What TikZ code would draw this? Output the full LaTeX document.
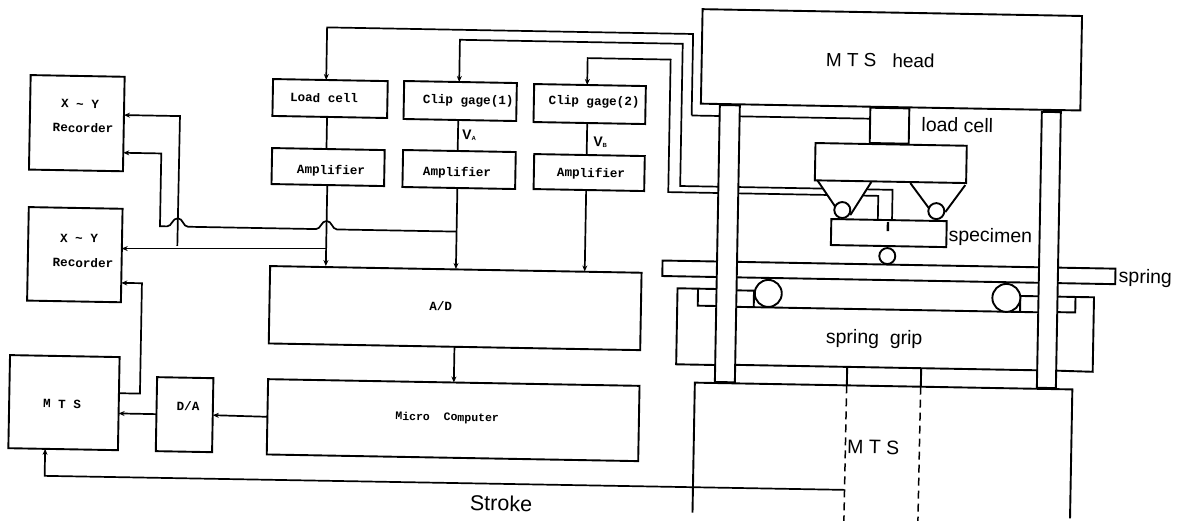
\documentclass[tikz,border=0pt]{standalone}
\usepackage{fontspec}
\setmainfont{Liberation Sans}
\setmonofont{Liberation Mono}
\usetikzlibrary{arrows.meta,calc}
\newcommand\OffT[3]{\raisebox{#2pt}[0pt][0pt]{\makebox[0pt]{\hspace*{#1pt}\hspace*{#1pt}#3}}}
\tikzset{
  skewrot/.style={rotate=-1.03},
  box/.style={draw=black,line width=1.9pt,fill=white,skewrot,inner sep=0pt,outer sep=0pt,
    font=\ttfamily\bfseries\fontsize{12.6}{14}\selectfont},
  smallbox/.style={box,font=\ttfamily\bfseries\fontsize{11.5}{13}\selectfont},
  part/.style={draw=black,line width=1.9pt,fill=white,skewrot,inner sep=0pt,outer sep=0pt},
  wire/.style={line width=1.7pt,line join=miter},
  awire/.style={wire,-{Stealth[length=6pt,width=5pt]}},
  lbl/.style={skewrot,inner sep=0pt,font=\fontsize{19.5}{22}\selectfont},
  volt/.style={skewrot,inner sep=0pt,font=\bfseries\fontsize{14}{16}\selectfont},
  edge/.style={line width=1.9pt,line join=miter},
  dashline/.style={line width=1.5pt,dash pattern=on 8pt off 5pt},
  roller/.style={draw=black,line width=1.9pt,fill=white,circle,inner sep=0pt,outer sep=0pt}
}
\begin{document}
\begin{tikzpicture}[x={(1pt,-0.018pt)},y={(-0.018pt,-1pt)}]
\path[use as bounding box] (0pt,0pt) rectangle (1183pt,-520pt);

% left block diagram
\node[box,minimum width=94pt,minimum height=94.5pt] (r1) at (79,121.75) {\OffT{2.9}{14.9}{X \~{} Y}\OffT{6.3}{-9}{Recorder}};
\node[box,minimum width=93.8pt,minimum height=93.5pt] (r2) at (79.4,253.25) {\OffT{3.9}{12.4}{X \~{} Y}\OffT{8.3}{-12.4}{Recorder}};
\node[box,minimum width=109.6pt,minimum height=93.1pt] (mts) at (71.2,401.35) {\OffT{-1.9}{-5.7}{M T S}};
\node[box,minimum width=56.3pt,minimum height=74pt] (da) at (192,411.2) {\OffT{3.3}{4.4}{D/A}};
\node[box,minimum width=114.7pt,minimum height=36.9pt] (lc) at (331.75,92.55) {\OffT{-6}{-3.8}{Load cell}};
\node[box,minimum width=112.6pt,minimum height=36pt] (a1) at (331,161.1) {\OffT{3}{-7.1}{Amplifier}};
\node[box,minimum width=112.7pt,minimum height=38pt] (c1) at (461.85,92.7) {\OffT{8}{-3.1}{Clip gage(1)}};
\node[box,minimum width=112.7pt,minimum height=37pt] (a2) at (462,161.2) {\OffT{-2}{-6.8}{Amplifier}};
\node[box,minimum width=111.7pt,minimum height=38pt] (c2) at (591.35,93.4) {\OffT{4.4}{-1.1}{Clip gage(2)}};
\node[box,minimum width=110.6pt,minimum height=35pt] (a3) at (592.1,161.9) {\OffT{1.9}{-4.7}{Amplifier}};
\node[box,minimum width=371.5pt,minimum height=77.4pt] (ad) at (460.55,299.8) {\OffT{-14.5}{-2.4}{A/D}};
\node[smallbox,minimum width=371.5pt,minimum height=75.3pt] (mc) at (460.55,411.85) {\OffT{-6}{-.8}{Micro\ \ Computer}};
\node[volt] (va) at (471.4,126.6) {V\raisebox{-1pt}{\fontsize{6}{6}\selectfont A}};
\node[volt] (vb) at (602.6,131.2) {V\raisebox{-1pt}{\fontsize{6}{6}\selectfont B}};

% machine parts that the wires end on
\node[part,minimum width=39pt,minimum height=35.3pt] (lcb) at (891.5,109.65) {};
\node[part,minimum width=151.3pt,minimum height=37.3pt] (ub) at (893.45,146.95) {};
\node[part,minimum width=115.4pt,minimum height=26pt] (sp) at (892.7,217) {};
\node[part,minimum width=453pt,minimum height=15.5pt] (spr) at (893.5,256.25) {};

% connectors
\draw[wire] ($(lc.south)+(-2.7,0)$) -- ++(0,32);
\draw[wire] ($(c1.south)+(-1.6,0)$) -- ++(0,31);
\draw[wire] ($(c2.south)+(-2.1,0)$) -- ++(0,32);
\draw[awire] ($(a1.south)+(-.5,0)$) -- ++(0,81);
\draw[awire] ($(a2.south)+(-1.4,0)$) -- ++(0,81);
\draw[awire] ($(a3.south)+(-2.7,0)$) -- ++(0,81.5);
\draw[awire] (ad.south) -- (mc.north);
\draw[awire] (mc.west) -- (da.east);
\draw[awire] (da.west) -- ($(mts.east)+(0,9.8)$);
\draw[awire] ($(mts.east)+(0,-10.4)$) -- ++(21,0) -- ++(0,-110.4) -- ($(r2.east)+(0,27.4)$);
\coordinate (b1) at (330.5,242.6);
\coordinate (b2) at (181.7,242.6);
\coordinate (b3) at (460.6,223.3);
\draw[awire] (b1) -- (r2.east |- b1);
\draw[awire] (b2) -- (182,112.8) -- ($(r1.east)+(0,-8.95)$);
\draw[awire] (b3) -- (341,223.3) .. controls (336,223.3) and (336,215) .. (330.5,215)
  .. controls (325,215) and (325,223.3) .. (320,223.3) -- (192,223.3)
  .. controls (187,223.3) and (187,215) .. (181.7,215)
  .. controls (176,215) and (176,223.3) .. (171,223.3) -- (164,223.3) -- (164,150.5)
  -- ($(r1.east)+(0,28.75)$);
\coordinate (strk) at (853,474.5);
\draw[awire] (strk) -- ($(mts.south)+(-18,27)$) -- ($(mts.south)+(-18,0)$);

\draw[awire] (693.5,103) -- (693.5,21.5) -- (327.5,21.5) -- ($(lc.north)+(-4.2,0)$);
\draw[wire] (693.5,103) -- ($(lcb.north west)+(0,11)$);
\draw[awire] (826,173.7) -- (683.3,173.7) -- (683.3,31.5) -- (460.5,31.5) -- ($(c1.north)+(-1.3,0)$);
\draw[awire] (830.6,180) -- (671.5,180) -- (671.5,47.5) -- (588.5,47.5) -- ($(c2.north)+(-2.8,0)$);
\draw[wire] (869.8,173.7) -- (895.7,173.7) -- (895.7,204);
\draw[wire] (865.3,180) -- (881.5,180) -- (881.5,204);

% testing frame
\node[part,minimum width=20pt,minimum height=277pt] (cl) at (731.5,230.5) {};
\node[part,minimum width=19pt,minimum height=276pt] (cr) at (1053,231) {};
\node[part,minimum width=379.5pt,minimum height=94.5pt,font=\fontsize{19}{22}\selectfont] (head) at (892.25,43.75) {\OffT{-11.2}{-7.5}{M T S\ \ \ head}};

% hoppers and rollers
\draw[edge] (820.2,165.3) -- (839.7,193);
\draw[edge] (874.3,166.3) -- (853.9,199.7);
\draw[edge] (913.3,166.6) -- (933.8,193.3);
\draw[edge] (968.3,167.6) -- (948.8,195);
\node[roller,minimum size=16pt] (rl) at (845.8,194.8) {};
\node[roller,minimum size=16pt] (rr) at (939.8,194.2) {};
\node[roller,minimum size=16pt] (rb) at (891.6,240) {};
\draw[edge,line width=2.4pt] (891.7,206) -- (891.7,215);

% spring grip
\draw[edge] (721.5,352) -- (682.5,352) -- (682.5,276) -- (721.5,276);
\draw[edge] (703,276) -- (703,293) -- (721.5,293);
\draw[edge] (741.5,277) -- (759,277) -- (759,293.5);
\draw[edge] (741.5,293.5) -- (1043.5,293.5);
\draw[edge] (741.5,351.5) -- (1043.5,351.5);
\draw[edge] (1043.5,277.5) -- (1025.3,277.5) -- (1025.3,293.5);
\draw[edge] (1062.5,351.5) -- (1099,352) -- (1099,277.5) -- (1062.5,277.5);
\draw[edge] (1080.5,277.5) -- (1080.5,293) -- (1062.5,293);
\node[roller,minimum size=27pt] (gl) at (773.3,279.5) {};
\node[roller,minimum size=28pt] (gr) at (1011.4,279.7) {};

% MTS base
\draw[edge] (701.5,500) -- (701.5,370) -- (1079,370) -- (1079,499);
\draw[edge] (853.5,351.5) -- (853.5,370);
\draw[edge] (927.5,351.5) -- (927.5,370);
\draw[dashline] (853.3,370) -- (853,506);
\draw[dashline] (927.3,370) -- (927,506);

% labels
\node[lbl] (tlc) at (959.3,107.8) {load cell};
\node[lbl] (tsp) at (994.3,219.2) {specimen};
\node[lbl] (tsg) at (1150,257.4) {spring};
\node[lbl] (tgr) at (880,323.3) {spring\ \ grip};
\node[lbl] (tmt) at (881,431.3) {M T S};
\node[lbl,font=\fontsize{21.5}{24}\selectfont] (tst) at (510,494) {Stroke};
\end{tikzpicture}
\end{document}
